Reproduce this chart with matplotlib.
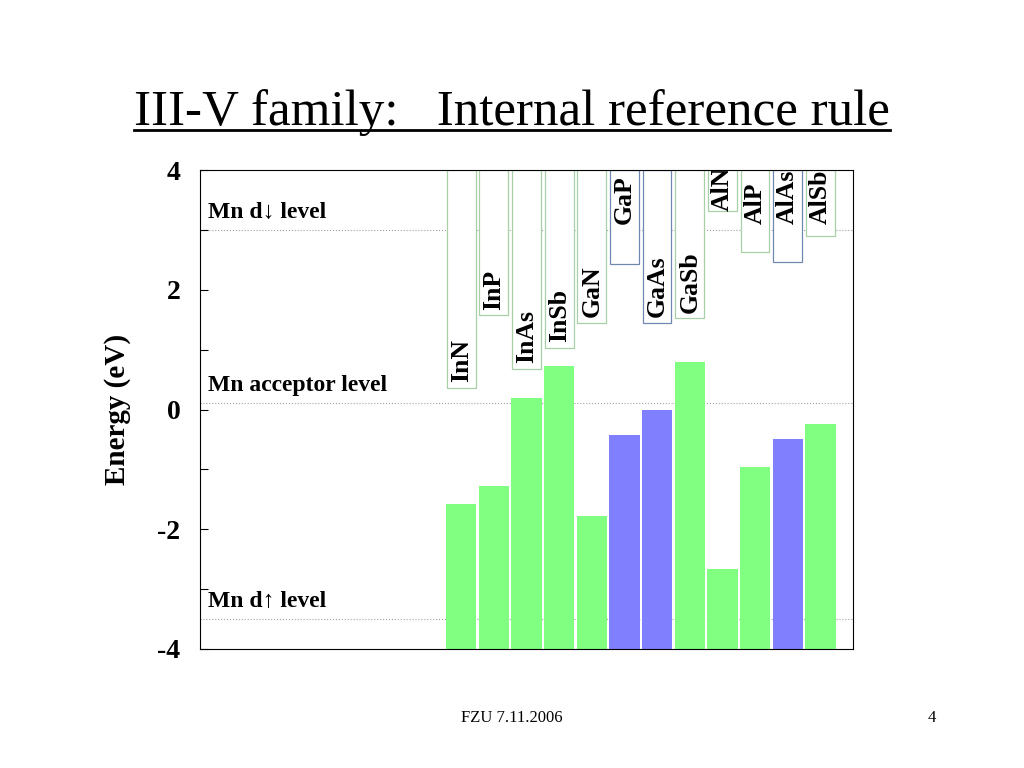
import matplotlib
matplotlib.use('Agg')
import matplotlib.pyplot as plt
from matplotlib.lines import Line2D

plt.rcParams['font.family'] = ['Liberation Serif', 'DejaVu Serif']
plt.rcParams['axes.unicode_minus'] = False

# compounds, valence band top and conduction band bottom (eV)
compounds = ["InN", "InP", "InAs", "InSb", "GaN", "GaP",
             "GaAs", "GaSb", "AlN", "AlP", "AlAs", "AlSb"]
valence_top = [-1.58, -1.28, 0.19, 0.72, -1.78, -0.43,
               0.0, 0.80, -2.66, -0.96, -0.49, -0.24]
conduction_bottom = [0.36, 1.57, 0.67, 1.02, 1.44, 2.43,
                     1.44, 1.52, 3.32, 2.63, 2.46, 2.89]
indirect = [False, False, False, False, False, True,
            True, False, False, False, True, False]

# Mn levels
level_names = ["Mn d\u2193 level", "Mn acceptor level", "Mn d\u2191 level"]
level_values = [3.0, 0.11, -3.5]

positions = list(range(8, 8 + len(compounds)))
ymin, ymax = -4, 4

fig = plt.figure(figsize=(10.24, 7.68), dpi=100)
ax = fig.add_axes([200 / 1024, 119 / 768, 653 / 1024, 479 / 768])

for x, vb, cb, ind in zip(positions, valence_top, conduction_bottom, indirect):
    fill = '#8080ff' if ind else '#80ff80'
    edge = '#7088b0' if ind else '#a8d0a8'
    ax.bar(x, vb - ymin, bottom=ymin, width=0.93, color=fill, linewidth=0)
    ax.bar(x, ymax - cb, bottom=cb, width=0.88, facecolor='white',
           edgecolor=edge, linewidth=0.9)

for x, cb, name in zip(positions, conduction_bottom, compounds):
    # labels sit just above the band edge, but no higher than ~3.1 eV
    if cb < 2.3:
        ly = cb + 0.1
    else:
        ly = max(3.1, cb)
    ax.text(x, ly, name, rotation=90, ha='center', va='bottom',
            fontsize=18.5, fontweight='bold', clip_on=True)

for name, val in zip(level_names, level_values):
    ax.axhline(val, color='#a0a0a0', linestyle=':', linewidth=0.8, zorder=0)
    ax.text(0.25, val + 0.11, name, ha='left', va='bottom', fontsize=17,
            fontweight='bold')

ax.set_xlim(0, 20)
ax.set_ylim(ymin, ymax)
ax.set_xticks([])
ax.set_yticks([-4, -2, 0, 2, 4])
ax.set_yticks([-3, -1, 1, 3], minor=True)
ax.tick_params(axis='y', which='both', direction='in', length=6, width=0.8,
               labelsize=20, pad=14)
for lab in ax.get_yticklabels():
    lab.set_fontweight('bold')
ax.set_ylabel('Energy (eV)', fontsize=21, fontweight='bold', labelpad=19)

title = fig.text(0.5, 1 - 125 / 768, 'III-V family:   Internal reference rule',
                 ha='center', va='baseline', fontsize=36.8)
fig.canvas.draw()
bb = title.get_window_extent().transformed(fig.transFigure.inverted())
fig.add_artist(Line2D([bb.x0, bb.x1], [1 - 130 / 768, 1 - 130 / 768],
                      color='black', linewidth=2))

fig.text(0.5, 1 - 722 / 768, 'FZU 7.11.2006', ha='center', va='baseline', fontsize=12)
fig.text(932 / 1024, 1 - 722 / 768, '4', ha='center', va='baseline', fontsize=12)

fig.savefig('out.png', dpi=100)
